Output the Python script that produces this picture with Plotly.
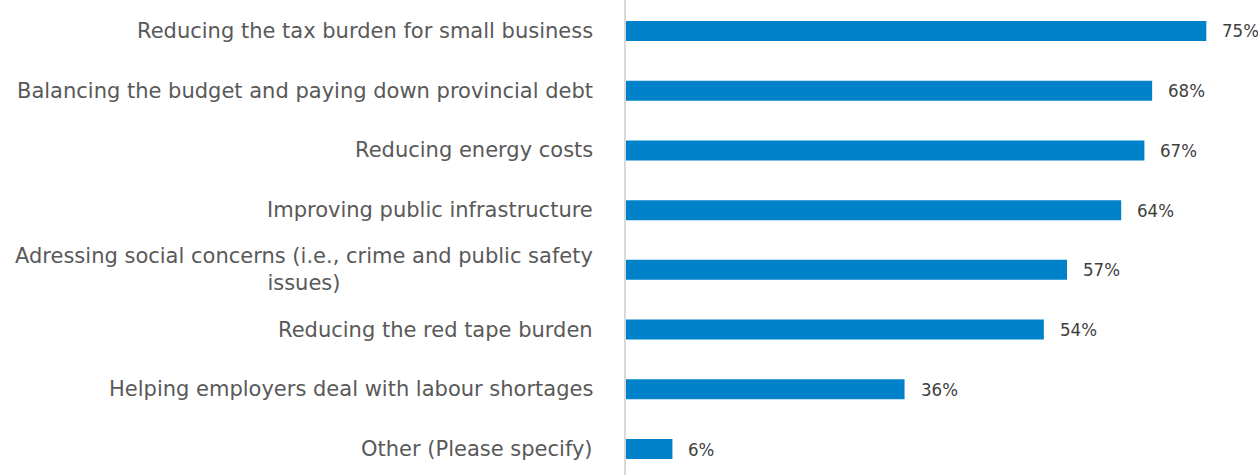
import plotly.graph_objects as go

categories = [
    "Reducing the tax burden for small business",
    "Balancing the budget and paying down provincial debt",
    "Reducing energy costs",
    "Improving public infrastructure",
    "Adressing social concerns (i.e., crime and public safety<br>issues)",
    "Reducing the red tape burden",
    "Helping employers deal with labour shortages",
    "Other (Please specify)",
]
values = [75, 68, 67, 64, 57, 54, 36, 6]
value_labels = [f"{v}%" for v in values]

LABEL_FONT = "DejaVu Sans, sans-serif"
VALUE_FONT = "DejaVu Sans Condensed, Liberation Sans Narrow, DejaVu Sans, sans-serif"
BAR = "#0082CB"

fig = go.Figure()
fig.add_trace(go.Bar(
    x=values, y=list(range(len(categories))), orientation="h",
    marker=dict(color=BAR, line=dict(width=0)),
    width=0.335, hoverinfo="skip",
))

annotations = []
for i, (c, v, t) in enumerate(zip(categories, values, value_labels)):
    annotations.append(dict(
        x=0, y=i, xref="x", yref="y", text=c, showarrow=False,
        xanchor="right", yanchor="middle", align="center", xshift=-31,
        font=dict(family=LABEL_FONT, size=21, color="#595959"),
    ))
    annotations.append(dict(
        x=v, y=i, xref="x", yref="y", text=t, showarrow=False,
        xanchor="left", yanchor="middle", xshift=14,
        font=dict(family=VALUE_FONT, size=18.5, color="#404040"),
    ))

fig.update_layout(
    width=1258, height=475,
    margin=dict(l=626, r=13, t=0, b=0),
    paper_bgcolor="white", plot_bgcolor="white",
    showlegend=False,
    annotations=annotations,
    xaxis=dict(range=[0, 80], showgrid=False, zeroline=False, showticklabels=False,
               showline=False, fixedrange=True),
    yaxis=dict(range=[7.435, -0.519], showgrid=False, zeroline=False, showticklabels=False,
               showline=True, linecolor="#D9D9D9", linewidth=2, fixedrange=True),
)

fig.write_html(
    "out.html",
    config={"displayModeBar": False, "staticPlot": True},
    post_script="document.body.style.margin='0';document.body.style.overflow='hidden';",
)
